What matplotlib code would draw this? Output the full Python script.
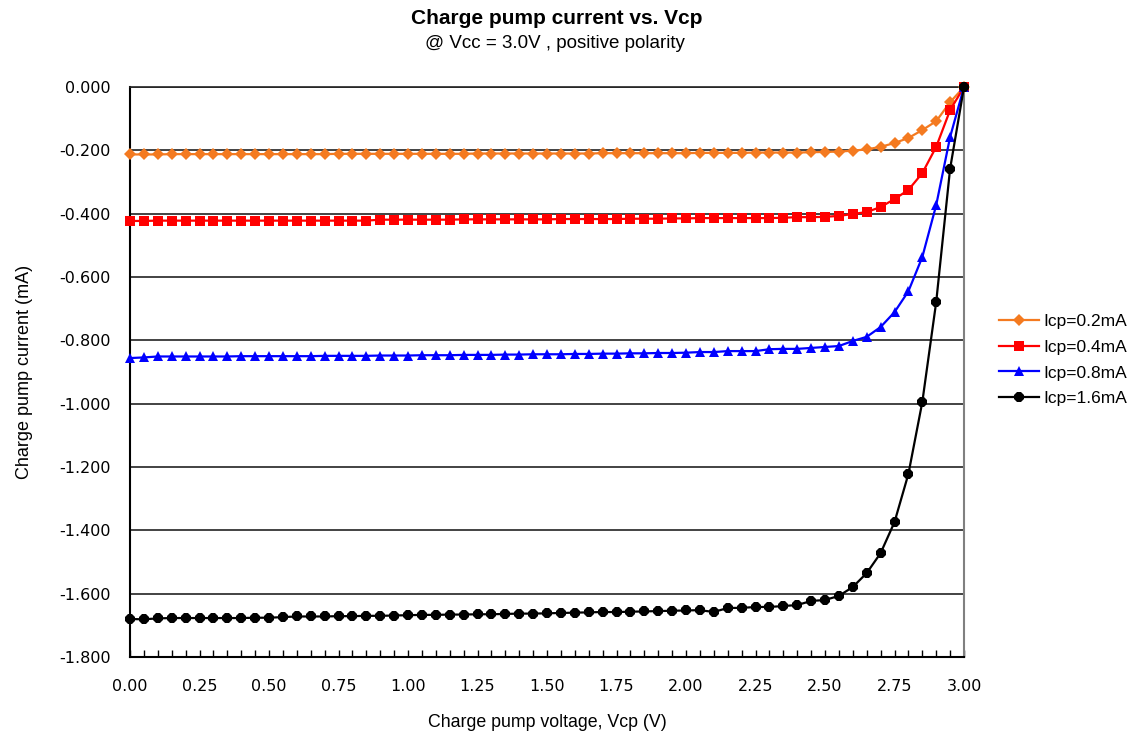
import numpy as np
import matplotlib
matplotlib.use("Agg")
import matplotlib.pyplot as plt
from matplotlib.ticker import MultipleLocator, FormatStrFormatter

vcp = [round(0.05 * i, 2) for i in range(61)]

icp_02 = [-0.213, -0.213, -0.213, -0.212, -0.212, -0.212, -0.212, -0.212, -0.212, -0.212,
          -0.212, -0.212, -0.212, -0.212, -0.212, -0.211, -0.211, -0.211, -0.211, -0.211,
          -0.211, -0.211, -0.211, -0.211, -0.211, -0.210, -0.210, -0.210, -0.210, -0.210,
          -0.210, -0.210, -0.210, -0.210, -0.209, -0.209, -0.209, -0.209, -0.209, -0.209,
          -0.209, -0.208, -0.208, -0.208, -0.208, -0.207, -0.207, -0.207, -0.207, -0.206,
          -0.205, -0.204, -0.201, -0.197, -0.189, -0.177, -0.161, -0.136, -0.108, -0.048,
          0.000]

icp_04 = [-0.423, -0.423, -0.422, -0.422, -0.422, -0.422, -0.422, -0.422, -0.422, -0.422,
          -0.422, -0.422, -0.422, -0.422, -0.422, -0.422, -0.422, -0.422, -0.419, -0.419,
          -0.419, -0.419, -0.419, -0.419, -0.418, -0.418, -0.418, -0.418, -0.418, -0.418,
          -0.418, -0.417, -0.417, -0.417, -0.417, -0.417, -0.416, -0.416, -0.416, -0.415,
          -0.415, -0.414, -0.414, -0.414, -0.414, -0.414, -0.414, -0.413, -0.411, -0.411,
          -0.410, -0.407, -0.401, -0.395, -0.379, -0.354, -0.325, -0.272, -0.189, -0.073,
          0.000]

icp_08 = [-0.856, -0.854, -0.851, -0.851, -0.851, -0.851, -0.851, -0.851, -0.850, -0.850,
          -0.850, -0.850, -0.850, -0.850, -0.849, -0.849, -0.849, -0.849, -0.848, -0.848,
          -0.848, -0.847, -0.847, -0.847, -0.846, -0.846, -0.846, -0.845, -0.845, -0.844,
          -0.844, -0.844, -0.843, -0.843, -0.842, -0.842, -0.841, -0.841, -0.840, -0.840,
          -0.839, -0.837, -0.837, -0.834, -0.834, -0.834, -0.828, -0.827, -0.827, -0.824,
          -0.821, -0.818, -0.802, -0.789, -0.758, -0.711, -0.645, -0.537, -0.373, -0.158,
          0.000]

icp_16 = [-1.680, -1.681, -1.678, -1.677, -1.677, -1.677, -1.677, -1.677, -1.677, -1.676,
          -1.676, -1.674, -1.672, -1.672, -1.672, -1.671, -1.671, -1.670, -1.670, -1.669,
          -1.668, -1.667, -1.667, -1.666, -1.666, -1.665, -1.665, -1.664, -1.663, -1.663,
          -1.662, -1.661, -1.660, -1.659, -1.658, -1.658, -1.657, -1.656, -1.655, -1.654,
          -1.653, -1.652, -1.658, -1.645, -1.645, -1.642, -1.642, -1.639, -1.636, -1.623,
          -1.620, -1.607, -1.579, -1.535, -1.472, -1.374, -1.222, -0.995, -0.679, -0.258,
          0.000]

labels = ["Icp=0.2mA", "Icp=0.4mA", "Icp=0.8mA", "Icp=1.6mA"]
series = [icp_02, icp_04, icp_08, icp_16]
colors = ["#F47A20", "#FF0000", "#0000FF", "#000000"]
markers = ["D", "s", "^", "8"]
msizes = [6.5, 6.5, 7.5, 7.5]

plt.rcParams['font.family'] = ['Liberation Sans', 'DejaVu Sans']

fig = plt.figure(figsize=(11.36, 7.37), dpi=100)
ax = fig.add_axes([130/1136, 1-657/737, (964-130)/1136, (657-87)/737])

handles = []
for lab, ys, c, m, ms in zip(labels, series, colors, markers, msizes):
    h, = ax.plot(vcp, ys, color=c, marker=m, markersize=ms, linewidth=1.6,
                 markeredgewidth=0, label=lab, clip_on=False, zorder=3)
    handles.append(h)

ax.set_xlim(0, 3.0)
ax.set_ylim(-1.8, 0.0)
ax.xaxis.set_major_locator(MultipleLocator(0.25))
ax.xaxis.set_minor_locator(MultipleLocator(0.05))
ax.yaxis.set_major_locator(MultipleLocator(0.2))
ax.xaxis.set_major_formatter(FormatStrFormatter('%.2f'))
ax.yaxis.set_major_formatter(FormatStrFormatter('%.3f'))
ax.yaxis.grid(True, color='#222222', linewidth=1.2)
ax.set_axisbelow(True)

for s in ['left', 'bottom']:
    ax.spines[s].set_color('black')
    ax.spines[s].set_linewidth(1.5)
ax.spines['right'].set_color('#808080')
ax.spines['right'].set_linewidth(1.5)
ax.spines['top'].set_color('#222222')
ax.spines['top'].set_linewidth(1.2)

ax.tick_params(axis='x', which='both', direction='in', length=5, width=1, pad=16, colors='black')
ax.tick_params(axis='y', which='both', length=0, pad=14)
for lbl in ax.get_xticklabels() + ax.get_yticklabels():
    lbl.set_family(['DejaVu Sans'])
    lbl.set_fontsize(11.5)

ax.set_xlabel("Charge pump voltage, Vcp (V)", fontsize=12.8, labelpad=14)
ax.set_ylabel("Charge pump current (mA)", fontsize=13, labelpad=14)
ax.yaxis.set_label_coords(-97/834, 0.5)

fig.text(557/1136, 1-18/737, "Charge pump current vs. Vcp", ha='center', va='center',
         fontsize=15, fontweight='bold')
fig.text(555/1136, 1-44/737, "@ Vcc = 3.0V , positive polarity", ha='center', va='center',
         fontsize=13.5)

fig.legend(handles=handles, loc='center left', bbox_to_anchor=(990/1136, 1-360/737),
           frameon=False, fontsize=12.5, handlelength=2.3, handletextpad=0.3,
           labelspacing=0.62, borderpad=0)

fig.savefig("out.png", dpi=100)
